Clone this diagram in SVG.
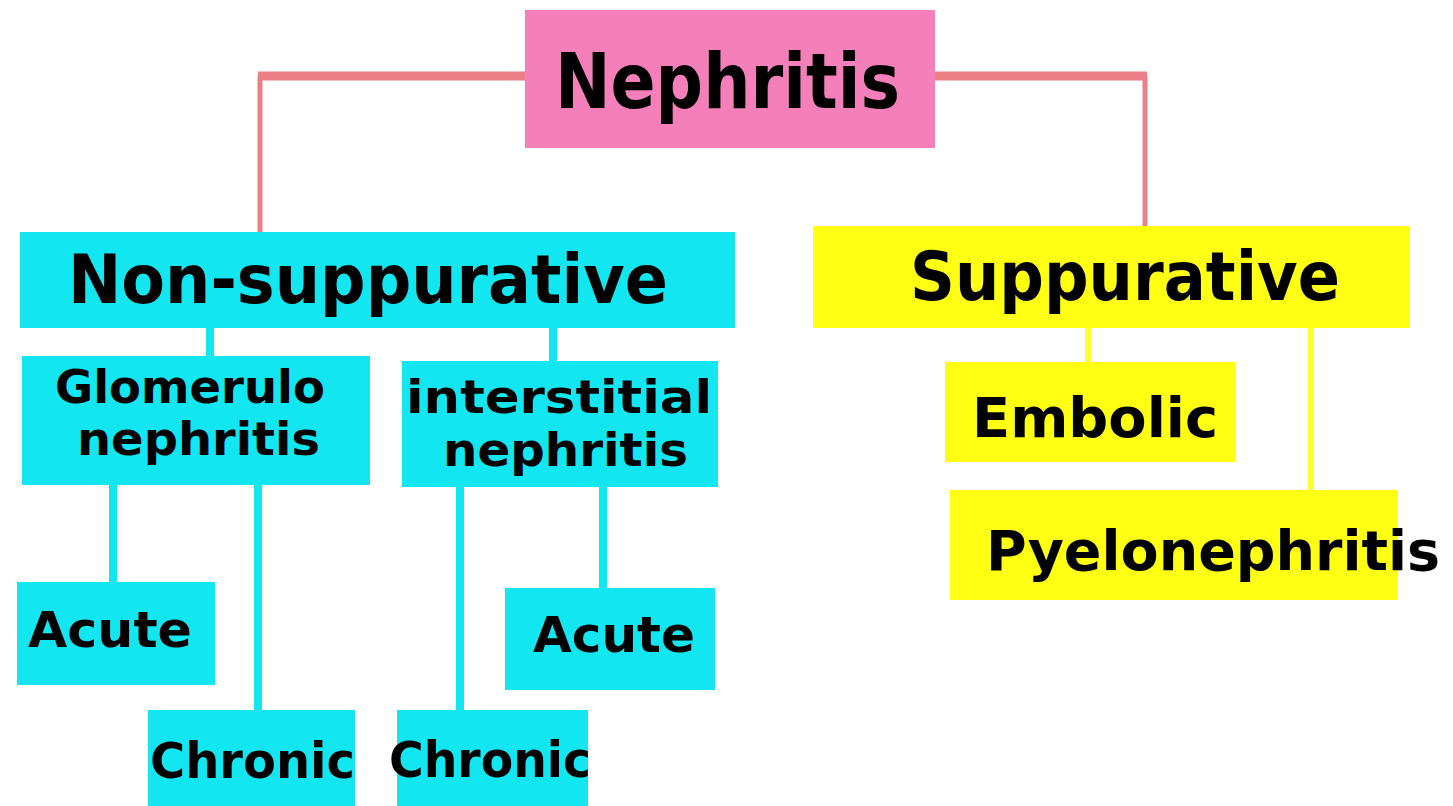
<svg xmlns="http://www.w3.org/2000/svg" width="1453" height="806" viewBox="0 0 1453 806">
<style>
.t{font-family:"DejaVu Sans","Liberation Sans",sans-serif;font-weight:bold;fill:#000;}
.cy{fill:#12E6F0;}
.ye{fill:#FFFF14;}
.pk{fill:#F57FB8;}
.lc{stroke:#12E6F0;stroke-width:8;fill:none;}
.ly{stroke:#FFFF30;stroke-width:6;fill:none;}
.lp{stroke:#EC7F86;stroke-width:5;fill:none;}
.lph{stroke:#EC7F86;stroke-width:9;fill:none;}
</style>
<rect width="1453" height="806" fill="#ffffff"/>
<g id="connectors">
<line class="lph" x1="525" y1="76" x2="258" y2="76"/>
<line class="lp" x1="260" y1="76" x2="260" y2="234"/>
<line class="lph" x1="935" y1="76" x2="1147" y2="76"/>
<line class="lp" x1="1145" y1="76" x2="1145" y2="230"/>
<line class="lc" x1="210" y1="326" x2="210" y2="357"/>
<line class="lc" x1="553" y1="326" x2="553" y2="362"/>
<line class="lc" x1="113" y1="483" x2="113" y2="584"/>
<line class="lc" x1="258" y1="483" x2="258" y2="712"/>
<line class="lc" x1="460" y1="485" x2="460" y2="712"/>
<line class="lc" x1="603" y1="485" x2="603" y2="590"/>
<line class="ly" x1="1088" y1="326" x2="1088" y2="364"/>
<line class="ly" x1="1311" y1="326" x2="1311" y2="492"/>
</g>
<g id="nephritis">
<rect class="pk" x="525" y="10" width="410" height="138"/>
<text class="t" x="555" y="108" font-size="76" textLength="345" lengthAdjust="spacingAndGlyphs">Nephritis</text>
</g>
<g id="non-suppurative">
<rect class="cy" x="20" y="232" width="715" height="96"/>
<text class="t" x="68" y="303" font-size="68" textLength="600" lengthAdjust="spacingAndGlyphs">Non-suppurative</text>
</g>
<g id="suppurative">
<rect class="ye" x="813" y="226" width="597" height="102"/>
<text class="t" x="910" y="300" font-size="68" textLength="430" lengthAdjust="spacingAndGlyphs">Suppurative</text>
</g>
<g id="glomerulonephritis">
<rect class="cy" x="22" y="356" width="348" height="129"/>
<text class="t" x="55" y="403" font-size="46" textLength="270" lengthAdjust="spacingAndGlyphs">Glomerulo</text>
<text class="t" x="77" y="455" font-size="46" textLength="243" lengthAdjust="spacingAndGlyphs">nephritis</text>
</g>
<g id="interstitial">
<rect class="cy" x="402" y="361" width="316" height="126"/>
<text class="t" x="406" y="413" font-size="46" textLength="306" lengthAdjust="spacingAndGlyphs">interstitial</text>
<text class="t" x="443" y="466" font-size="46" textLength="245" lengthAdjust="spacingAndGlyphs">nephritis</text>
</g>
<g id="acute-left">
<rect class="cy" x="17" y="582" width="198" height="103"/>
<text class="t" x="28" y="647" font-size="50" textLength="164" lengthAdjust="spacingAndGlyphs">Acute</text>
</g>
<g id="acute-right">
<rect class="cy" x="505" y="588" width="210" height="102"/>
<text class="t" x="533" y="652" font-size="50" textLength="162" lengthAdjust="spacingAndGlyphs">Acute</text>
</g>
<g id="chronic-left">
<rect class="cy" x="148" y="710" width="207" height="96"/>
<text class="t" x="150" y="778" font-size="50" textLength="205" lengthAdjust="spacingAndGlyphs">Chronic</text>
</g>
<g id="chronic-right">
<rect class="cy" x="397" y="710" width="191" height="96"/>
<text class="t" x="389" y="777" font-size="50" textLength="202" lengthAdjust="spacingAndGlyphs">Chronic</text>
</g>
<g id="embolic">
<rect class="ye" x="945" y="362" width="291" height="100"/>
<text class="t" x="972" y="437" font-size="56" textLength="246" lengthAdjust="spacingAndGlyphs">Embolic</text>
</g>
<g id="pyelonephritis">
<rect class="ye" x="950" y="490" width="448" height="110"/>
<text class="t" x="986" y="570" font-size="56" textLength="454" lengthAdjust="spacingAndGlyphs">Pyelonephritis</text>
</g>
</svg>
